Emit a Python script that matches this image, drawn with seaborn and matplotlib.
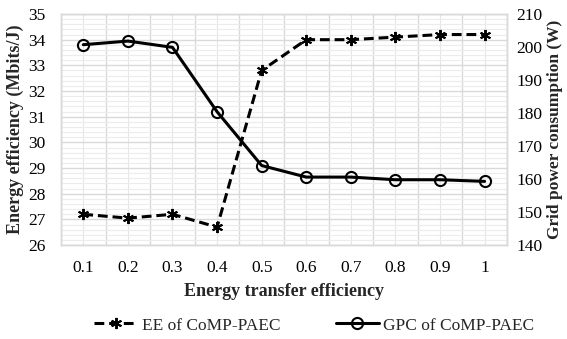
import matplotlib
matplotlib.use("Agg")
import matplotlib.pyplot as plt
import seaborn as sns
import pandas as pd
import numpy as np
from matplotlib.ticker import MultipleLocator, FixedLocator

categories = ["0.1", "0.2", "0.3", "0.4", "0.5", "0.6", "0.7", "0.8", "0.9", "1"]
ee_values = [27.2, 27.05, 27.2, 26.7, 32.8, 34.0, 34.0, 34.1, 34.2, 34.2]
gpc_values = [200.7, 201.8, 199.9, 180.4, 164.1, 160.6, 160.6, 159.8, 159.8, 159.3]
ee_label = "EE of CoMP-PAEC"
gpc_label = "GPC of CoMP-PAEC"

sns.set_style("white")
plt.rcParams['font.family'] = ['Liberation Serif', 'DejaVu Serif']

df = pd.DataFrame({"x": categories, "EE": ee_values, "GPC": gpc_values})

fig = plt.figure(figsize=(5.67, 3.39), dpi=100)
ax = fig.add_axes([0.1076, 0.277, 0.7864, 0.6817])
ax2 = ax.twinx()

sns.lineplot(data=df, x="x", y="EE", ax=ax, color="black", lw=2.2,
             marker=(6, 2, 0), markersize=8, markeredgewidth=1.4,
             markeredgecolor="black", sort=False, label=ee_label, legend=False)
ax.lines[0].set_dashes([3.2, 1.6])
sns.lineplot(data=df, x="x", y="GPC", ax=ax2, color="black", lw=2.2,
             marker="o", markersize=8, markerfacecolor="none",
             markeredgewidth=1.5, markeredgecolor="black", sort=False,
             label=gpc_label, legend=False)

ax.set_xlim(-0.5, len(categories) - 0.5)
ax.set_ylim(26, 35)
ax2.set_ylim(140, 210)
ax.yaxis.set_major_locator(MultipleLocator(1))
ax2.yaxis.set_major_locator(MultipleLocator(10))
ax.yaxis.set_minor_locator(MultipleLocator(0.2))
ax.xaxis.set_major_locator(FixedLocator(np.arange(len(categories))))
ax.set_xticklabels(categories)
ax.xaxis.set_minor_locator(FixedLocator(np.arange(-0.5, len(categories), 1.0)))

ax.grid(which="major", axis="y", color="#d9d9d9", lw=1.0)
ax.grid(which="minor", axis="y", color="#ececec", lw=0.8)
ax.grid(which="minor", axis="x", color="#d9d9d9", lw=1.0)
ax.grid(which="major", axis="x", color="#e6e6e6", lw=0.8)
ax.set_axisbelow(True)
ax2.grid(False)

for a in (ax, ax2):
    for s in a.spines.values():
        s.set_color("#d9d9d9")
        s.set_linewidth(1.0)
    a.tick_params(which="both", length=0, labelsize=12.5, colors="black")

ax.tick_params(axis="x", pad=11)
ax.tick_params(axis="y", pad=11)
ax2.tick_params(axis="y", pad=7)

ax.set_xlabel("Energy transfer efficiency", fontsize=13, fontweight="bold", labelpad=5)
ax.set_ylabel("Energy efficiency (Mbits/J)", fontsize=13, fontweight="bold", labelpad=3)
ax2.set_ylabel("Grid power consumption (W)", fontsize=12.5, fontweight="bold", labelpad=3)

h1 = ax.lines[0]
h2 = ax2.lines[0]
fig.legend([h1, h2], [ee_label, gpc_label], loc="center", bbox_to_anchor=(0.554, 0.04),
           ncol=2, frameon=False, fontsize=12.5, handlelength=2.5, columnspacing=3.2,
           handletextpad=0.23, borderpad=0, borderaxespad=0)

fig.savefig("out.png", dpi=100)
